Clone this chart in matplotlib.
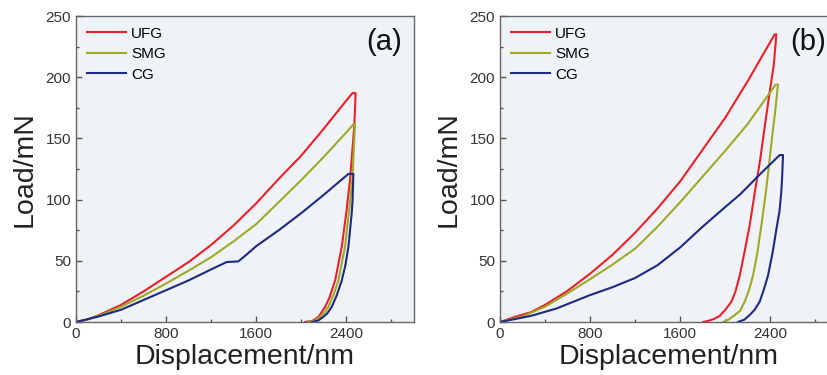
import matplotlib
matplotlib.use("Agg")
import matplotlib.pyplot as plt
from matplotlib.ticker import MultipleLocator

plt.rcParams['font.family'] = ['Liberation Sans', 'DejaVu Sans']

#----------------------------------------------------------------
# load-displacement curves (loading -> hold -> unloading)
#----------------------------------------------------------------
# (a)
ufg_a_x = [0, 100, 200, 400, 600, 800, 1000, 1200, 1400, 1600, 1800, 2000, 2200, 2400, 2453,
           2482, 2470, 2432, 2400, 2359, 2300, 2250, 2212, 2180, 2153, 2100, 2035]
ufg_a_y = [0, 2, 5.5, 14, 25, 37, 49, 63, 79, 97, 117, 136, 158, 181, 187,
           187, 160, 116, 90, 61.5, 34, 20, 12.5, 8, 4.3, 1, 0]

smg_a_x = [0, 100, 200, 400, 600, 800, 1000, 1200, 1400, 1600, 1800, 2000, 2200, 2400, 2462,
           2476, 2465, 2453, 2420, 2388, 2329, 2285, 2241, 2200, 2168, 2120, 2065]
smg_a_y = [0, 2, 5, 12.5, 21.5, 31.5, 42, 53, 66, 80, 98, 116, 135, 155, 161.5,
           161.5, 140, 116, 88, 61.5, 34, 22, 12.5, 7, 4.3, 1.2, 0]

cg_a_x = [0, 200, 400, 600, 800, 1000, 1200, 1338, 1441, 1500, 1600, 1800, 2000, 2200, 2418,
          2462, 2455, 2447, 2418, 2390, 2359, 2315, 2271, 2230, 2197, 2150, 2094]
cg_a_y = [0, 4.5, 10, 18, 26, 34, 43, 49, 49.5, 54, 62, 75, 89, 104, 121,
          121, 100, 88.8, 61.5, 46, 34, 22, 12.5, 7, 4.3, 1.2, 0]

# (b)
ufg_b_x = [0, 127, 275, 400, 600, 800, 1000, 1200, 1400, 1600, 1800, 2000, 2200, 2438,
           2453, 2430, 2394, 2350, 2311, 2260, 2216, 2170, 2128, 2090, 2054, 2000, 1950, 1900, 1850, 1803]
ufg_b_y = [0, 4, 8, 14, 25.5, 39.5, 55, 73, 93, 115, 141, 167, 197, 235,
           235, 210, 188, 160, 133.7, 105, 79, 57, 38, 25, 16.6, 10, 5, 2.5, 1, 0]

smg_b_x = [0, 200, 400, 600, 800, 1000, 1200, 1400, 1600, 1800, 2000, 2200, 2447,
           2467, 2440, 2420, 2394, 2360, 2320, 2285, 2246, 2210, 2172, 2130, 2083, 2030, 1980]
smg_b_y = [0, 4.5, 12.5, 23.5, 35, 47, 60, 78, 98, 119, 140, 162, 194,
           194, 170, 155, 133.7, 106, 79, 57, 38, 26, 16.6, 9, 5.7, 2, 0]

cg_b_x = [0, 275, 500, 800, 1000, 1200, 1400, 1600, 1800, 2000, 2128, 2193, 2300, 2482,
          2512, 2505, 2497, 2480, 2459, 2420, 2379, 2340, 2305, 2260, 2216, 2170, 2113]
cg_b_y = [0, 5, 11, 22, 28.5, 36, 46.5, 61, 78, 94, 104, 110, 120, 136.4,
          136.4, 120, 106.5, 90, 79, 57, 38, 26, 16.6, 10, 5.7, 2, 0]

labels = ["UFG", "SMG", "CG"]
colors = ["#e8202a", "#a0a82a", "#1c2a80"]

panels = [
    ("(a)", [(ufg_a_x, ufg_a_y), (smg_a_x, smg_a_y), (cg_a_x, cg_a_y)]),
    ("(b)", [(ufg_b_x, ufg_b_y), (smg_b_x, smg_b_y), (cg_b_x, cg_b_y)]),
]

#----------------------------------------------------------------
fig = plt.figure(figsize=(8.28, 3.75), dpi=100)
lefts = [76 / 828, 500 / 828]

for (tag, curves), left in zip(panels, lefts):
    ax = fig.add_axes([left, 53 / 375, 338 / 828, 306 / 375])
    ax.set_facecolor("#eff3f8")

    for (xs, ys), lab, c in zip(curves, labels, colors):
        ax.plot(xs, ys, color=c, lw=1.5, label=lab, solid_joinstyle="round")

    ax.set_xlim(0, 3000)
    ax.set_ylim(0, 250)
    ax.xaxis.set_major_locator(MultipleLocator(800))
    ax.xaxis.set_minor_locator(MultipleLocator(400))
    ax.yaxis.set_major_locator(MultipleLocator(50))
    ax.yaxis.set_minor_locator(MultipleLocator(25))
    ax.tick_params(which="both", direction="in", colors="#555555",
                   labelcolor="#333333", labelsize=11, top=False, right=False)
    ax.tick_params(which="major", length=4, width=1)
    ax.tick_params(which="minor", length=2.5, width=1)
    for sp in ax.spines.values():
        sp.set_color("#666666")
        sp.set_linewidth(1)

    ax.set_xlabel("Displacement/nm", fontsize=20.5, color="#222222", labelpad=2)
    ax.set_ylabel("Load/mN", fontsize=20.5, color="#222222", labelpad=6)

    ax.text(0.86, 0.96, tag, transform=ax.transAxes, fontsize=21,
            ha="left", va="top", color="#111111")

    ax.legend(loc="upper left", frameon=False, fontsize=11, handlelength=2.6,
              handletextpad=0.3, labelspacing=0.42, borderaxespad=0.4,
              borderpad=0.3)

fig.savefig("out.png", dpi=100)
